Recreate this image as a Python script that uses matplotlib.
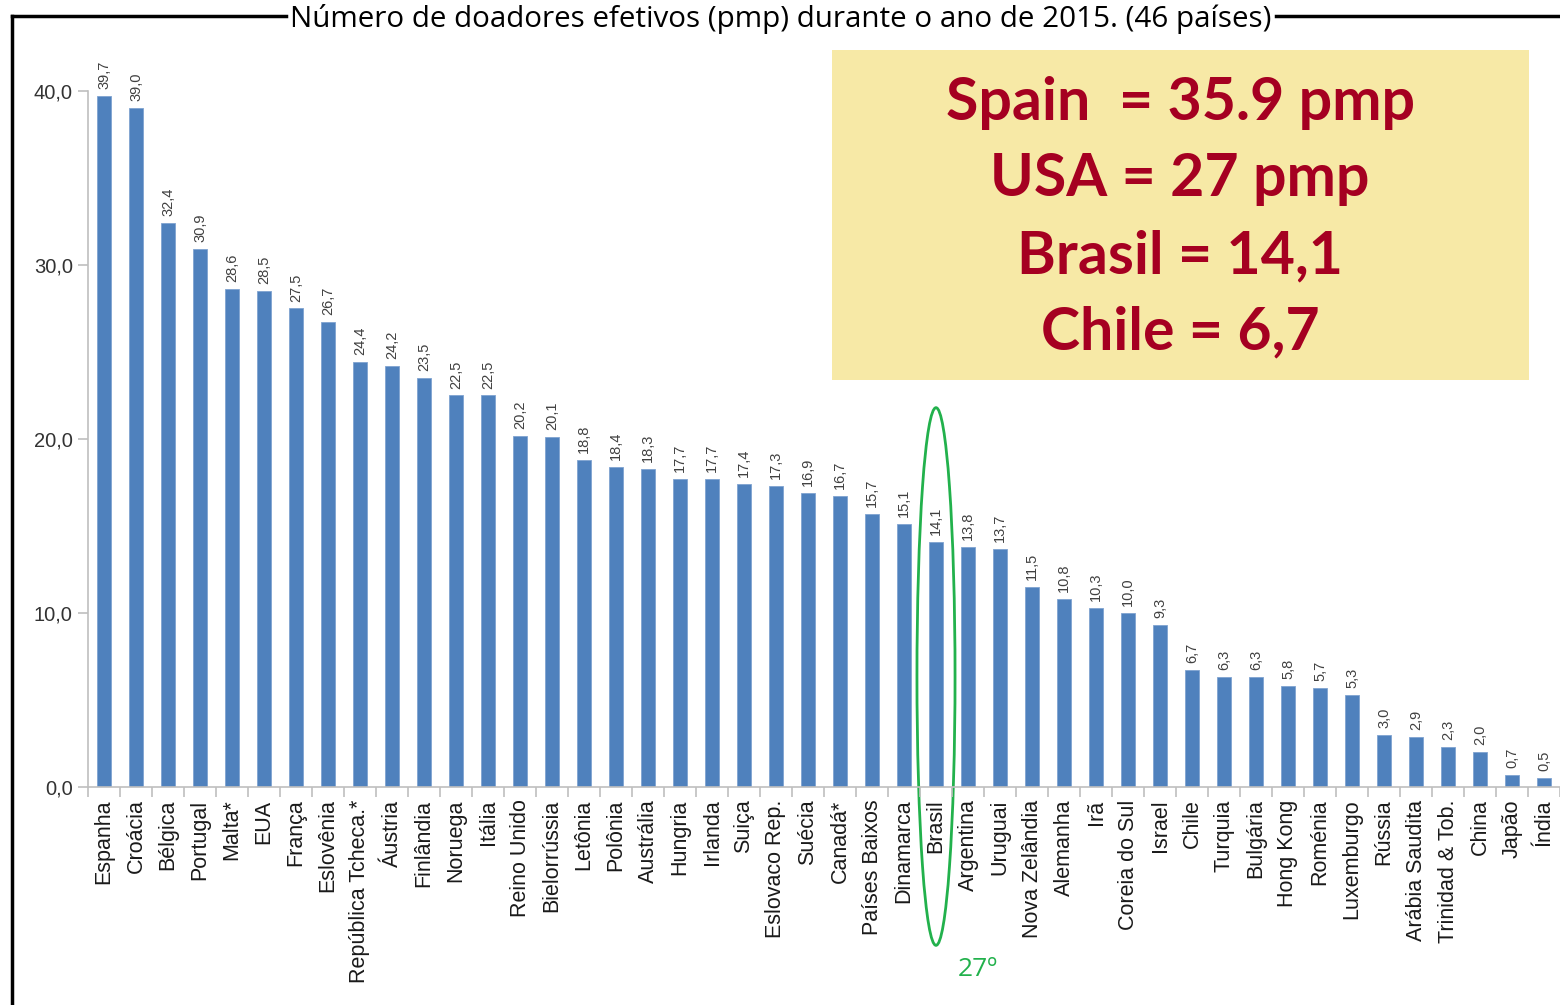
import matplotlib
matplotlib.use("Agg")
import matplotlib.pyplot as plt
from matplotlib.patches import Ellipse, Rectangle
from matplotlib.lines import Line2D

paises = ["Espanha", "Croácia", "Bélgica", "Portugal", "Malta*", "EUA", "França",
          "Eslovênia", "República Tcheca.*", "Áustria", "Finlândia", "Noruega",
          "Itália", "Reino Unido", "Bielorrússia", "Letônia", "Polônia", "Austrália",
          "Hungria", "Irlanda", "Suiça", "Eslovaco Rep.", "Suécia", "Canadá*",
          "Países Baixos", "Dinamarca", "Brasil", "Argentina", "Uruguai",
          "Nova Zelândia", "Alemanha", "Irã", "Coreia do Sul", "Israel", "Chile",
          "Turquia", "Bulgária", "Hong Kong", "Roménia", "Luxemburgo", "Rússia",
          "Arábia Saudita", "Trinidad & Tob.", "China", "Japão", "Índia"]
doadores = [39.7, 39.0, 32.4, 30.9, 28.6, 28.5, 27.5, 26.7, 24.4, 24.2, 23.5, 22.5,
            22.5, 20.2, 20.1, 18.8, 18.4, 18.3, 17.7, 17.7, 17.4, 17.3, 16.9, 16.7,
            15.7, 15.1, 14.1, 13.8, 13.7, 11.5, 10.8, 10.3, 10.0, 9.3, 6.7, 6.3,
            6.3, 5.8, 5.7, 5.3, 3.0, 2.9, 2.3, 2.0, 0.7, 0.5]
yticks = [0, 10, 20, 30, 40]
titulo = "Número de doadores efetivos (pmp) durante o ano de 2015. (46 países)"
destaque = ["Spain  = 35.9 pmp", "USA = 27 pmp", "Brasil = 14,1", "Chile = 6,7"]
pais_destacado = "Brasil"
posicao = "27º"

W, H = 1560, 1005
fig = plt.figure(figsize=(W / 100, H / 100), dpi=100)
ax = fig.add_axes([88 / W, 218 / H, 1472 / W, 696 / H])

x = list(range(len(paises)))
ax.bar(x, doadores, width=0.42, color="#4F81BD", edgecolor="#7FA3D0", linewidth=0.6)
ax.set_xlim(-0.5, len(paises) - 0.5)
ax.set_ylim(0, 40)

# rótulos de valor
for xi, v in zip(x, doadores):
    ax.annotate(f"{v:.1f}".replace(".", ","), (xi, v), xytext=(0, 5),
                textcoords="offset points", rotation=90, ha="center", va="bottom",
                fontsize=10.5, color="#404040", family="Liberation Sans", annotation_clip=False)

ax.set_xticks(x)
ax.set_xticklabels(paises, rotation=90, fontsize=15.5, color="#1a1a1a", family="Liberation Sans")
ax.set_xticks([i - 0.5 for i in range(len(paises) + 1)], minor=True)
ax.tick_params(axis="x", which="major", length=0, pad=9)
ax.tick_params(axis="x", which="minor", length=7, color="#BFBFBF", width=1.2)
ax.set_yticks(yticks)
ax.set_yticklabels([f"{t:.1f}".replace(".", ",") for t in yticks], fontsize=14.5,
                   color="#333333", family="Liberation Sans")
ax.tick_params(axis="y", length=7, color="#BFBFBF", width=1.2, pad=4)

for s in ["top", "right"]:
    ax.spines[s].set_visible(False)
for s in ["left", "bottom"]:
    ax.spines[s].set_color("#BFBFBF")
    ax.spines[s].set_linewidth(1.2)

# elipse verde em volta do Brasil
ib = paises.index(pais_destacado)
ax.add_patch(Ellipse((ib, 6.35), 1.19, 30.9, fill=False, edgecolor="#22B14C",
                     linewidth=2, clip_on=False))
ax.text(ib + 1.3, -10.5, posicao, color="#22B14C", fontsize=19, ha="center",
        va="center", family="Open Sans")

# moldura com título
fig.add_artist(Line2D([12 / W, 12 / W], [0, 1 - 16 / H], color="black", linewidth=2.5))
fig.add_artist(Line2D([12 / W, 286 / W], [1 - 16 / H, 1 - 16 / H], color="black", linewidth=2.5))
fig.add_artist(Line2D([1276 / W, 1], [1 - 16 / H, 1 - 16 / H], color="black", linewidth=2.5))
fig.text(781 / W, 1 - 19 / H, titulo, ha="center", va="center", fontsize=21.3,
         family="Open Sans", color="black")

# caixa amarela
fig.add_artist(Rectangle((832 / W, 1 - 380 / H), 697 / W, 330 / H,
                         facecolor="#F7E9A6", edgecolor="none", transform=fig.transFigure))
for i, linha in enumerate(destaque):
    fig.text(1180 / W, 1 - (103 + i * 76.5) / H, linha, ha="center", va="center",
             fontsize=42.5, fontweight="bold", family="Lato", color="#A50021")

fig.savefig("out.png", dpi=100)
